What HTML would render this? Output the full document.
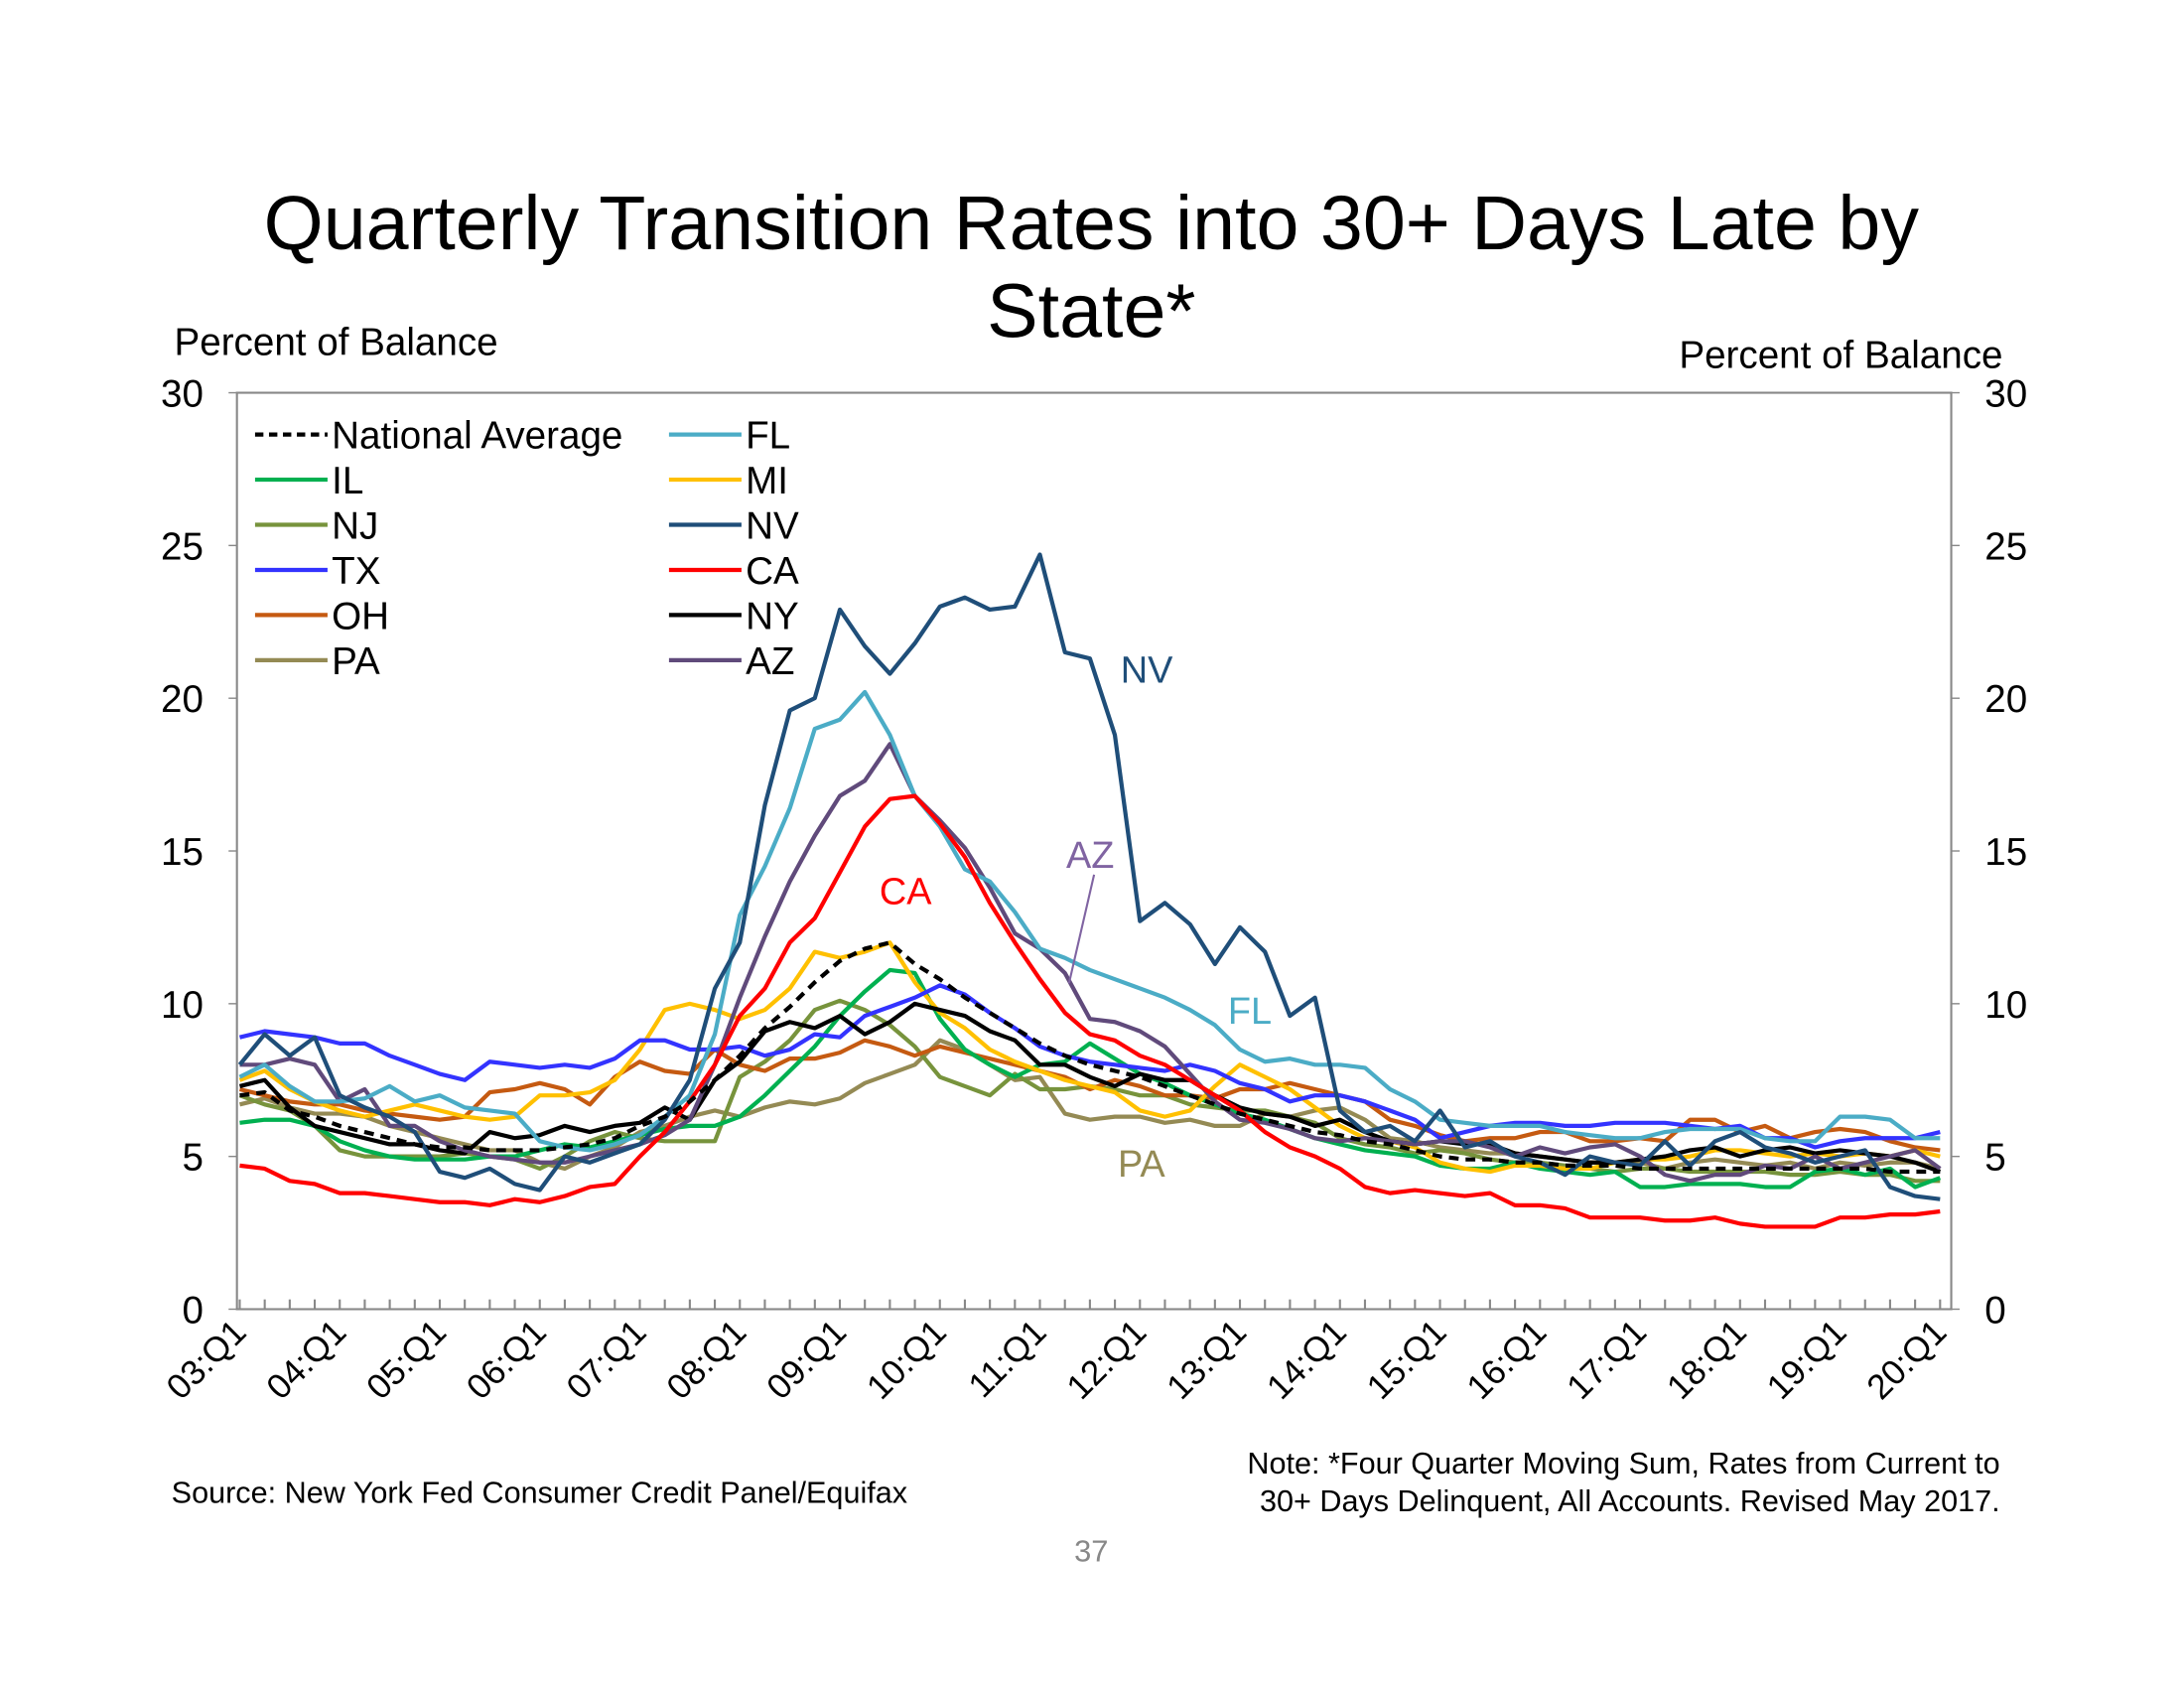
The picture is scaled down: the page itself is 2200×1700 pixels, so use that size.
<!DOCTYPE html>
<html><head><meta charset="utf-8">
<style>
html,body{margin:0;padding:0;background:#fff;}
svg{display:block;font-family:"Liberation Sans",Arial,sans-serif;}
</style></head>
<body>
<svg id="chart" width="2200" height="1700" viewBox="0 0 1567 1212" preserveAspectRatio="none" xmlns="http://www.w3.org/2000/svg">
<rect x="0" y="0" width="1567" height="1212" fill="#fff"/>
<text x="783" y="179" font-size="55" text-anchor="middle">Quarterly Transition Rates into 30+ Days Late by</text>
<text x="783" y="242" font-size="55" text-anchor="middle">State*</text>
<text x="125" y="255" font-size="27.5">Percent of Balance</text>
<text x="1437" y="264" font-size="27.5" text-anchor="end">Percent of Balance</text>
<rect x="170" y="282" width="1230" height="658" fill="none" stroke="#888" stroke-width="1.5"/>
<g id="axes"></g>
<g id="series"></g>
<g id="legend"></g>
<text x="804" y="490" font-size="27" fill="#1f4e79">NV</text>
<text x="765" y="623" font-size="27" fill="#8064a2">AZ</text>
<line x1="785" y1="628" x2="767" y2="706" stroke="#8064a2" stroke-width="1.5"/>
<text x="631" y="649" font-size="27" fill="#ff0000">CA</text>
<text x="881" y="735" font-size="27" fill="#4bacc6">FL</text>
<text x="802" y="845" font-size="27" fill="#948a54">PA</text>
<text x="123" y="1079" font-size="21.8">Source: New York Fed Consumer Credit Panel/Equifax</text>
<text x="1435" y="1058" font-size="21.8" text-anchor="end">Note: *Four Quarter Moving Sum, Rates from Current to</text>
<text x="1435" y="1085" font-size="21.8" text-anchor="end">30+ Days Delinquent, All Accounts. Revised May 2017.</text>
<text x="783" y="1121" font-size="22" fill="#888" text-anchor="middle">37</text>
</svg>
<script>
const yTicks = [0,5,10,15,20,25,30];
const xLabels = ["03:Q1","04:Q1","05:Q1","06:Q1","07:Q1","08:Q1","09:Q1","10:Q1","11:Q1","12:Q1","13:Q1","14:Q1","15:Q1","16:Q1","17:Q1","18:Q1","19:Q1","20:Q1"];
const seriesNames = ["National Average","FL","IL","MI","NJ","NV","TX","CA","OH","NY","PA","AZ"];
const natAvg = [7.0,7.1,6.5,6.3, 6.0,5.8,5.6,5.4, 5.3,5.3,5.2,5.2, 5.2,5.3,5.4,5.6, 6.0,6.3,6.8,7.5, 8.3,9.2,9.9,10.7, 11.4,11.8,12.0,11.3, 10.8,10.2,9.7,9.2, 8.7,8.3,8.0,7.8, 7.6,7.3,7.0,6.7, 6.4,6.2,6.0,5.8, 5.7,5.5,5.4,5.2, 5.0,4.9,4.9,4.8, 4.8,4.7,4.7,4.7, 4.6,4.6,4.6,4.6, 4.6,4.6,4.6,4.6, 4.6,4.6,4.5,4.5, 4.5];
const fl = [7.6,8.0,7.3,6.8, 6.8,6.9,7.3,6.8, 7.0,6.6,6.5,6.4, 5.5,5.3,5.2,5.4, 5.7,6.3,7.0,9.0, 12.9,14.5,16.4,19.0, 19.3,20.2,18.8,16.8, 15.8,14.4,14.0,13.0, 11.8,11.5,11.1,10.8, 10.5,10.2,9.8,9.3, 8.5,8.1,8.2,8.0, 8.0,7.9,7.2,6.8, 6.2,6.1,6.0,6.0, 6.0,5.8,5.7,5.6, 5.6,5.8,5.9,5.9, 5.9,5.6,5.5,5.5, 6.3,6.3,6.2,5.6, 5.6];
const il = [6.1,6.2,6.2,6.0, 5.5,5.2,5.0,4.9, 4.9,4.9,5.0,5.0, 5.2,5.4,5.3,5.5, 5.7,5.9,6.0,6.0, 6.3,7.0,7.8,8.6, 9.6,10.4,11.1,11.0, 9.5,8.5,8.0,7.6, 8.0,8.1,8.7,8.2, 7.7,7.4,7.0,6.7, 6.4,6.2,5.9,5.6, 5.4,5.2,5.1,5.0, 4.7,4.6,4.6,4.8, 4.6,4.5,4.4,4.5, 4.0,4.0,4.1,4.1, 4.1,4.0,4.0,4.5, 4.6,4.4,4.6,4.0, 4.3];
const mi = [7.5,7.8,7.2,6.8, 6.5,6.3,6.5,6.7, 6.5,6.3,6.2,6.3, 7.0,7.0,7.1,7.5, 8.5,9.8,10.0,9.8, 9.5,9.8,10.5,11.7, 11.5,11.7,12.0,10.7, 9.7,9.2,8.5,8.1, 7.8,7.5,7.3,7.1, 6.5,6.3,6.5,7.3, 8.0,7.6,7.2,6.6, 6.0,5.6,5.5,5.3, 4.8,4.6,4.5,4.7, 4.7,4.6,4.6,4.8, 4.9,4.9,5.0,5.2, 5.2,5.1,5.0,5.1, 5.0,5.1,5.0,5.2, 5.0];
const nj = [7.0,6.7,6.5,6.0, 5.2,5.0,5.0,5.0, 5.0,5.1,5.0,4.9, 4.6,5.0,5.5,5.8, 5.6,5.5,5.5,5.5, 7.6,8.1,8.8,9.8, 10.1,9.8,9.3,8.6, 7.6,7.3,7.0,7.7, 7.2,7.2,7.3,7.2, 7.0,7.0,6.7,6.6, 6.5,6.5,6.3,6.1, 5.6,5.4,5.3,5.1, 5.2,5.1,4.9,4.8, 4.8,4.7,4.6,4.5, 4.6,4.6,4.5,4.5, 4.5,4.5,4.4,4.4, 4.5,4.4,4.4,4.2, 4.2];
const nv = [8.0,9.0,8.3,8.9, 7.0,6.6,6.3,5.8, 4.5,4.3,4.6,4.1, 3.9,5.0,4.8,5.1, 5.4,6.2,7.5,10.5, 12.0,16.5,19.6,20.0, 22.9,21.7,20.8,21.8, 23.0,23.3,22.9,23.0, 24.7,21.5,21.3,18.8, 12.7,13.3,12.6,11.3, 12.5,11.7,9.6,10.2, 6.5,5.8,6.0,5.5, 6.5,5.3,5.5,5.0, 4.8,4.4,5.0,4.8, 4.7,5.5,4.7,5.5, 5.8,5.3,5.1,4.8, 5.0,5.2,4.0,3.7, 3.6];
const tx = [8.9,9.1,9.0,8.9, 8.7,8.7,8.3,8.0, 7.7,7.5,8.1,8.0, 7.9,8.0,7.9,8.2, 8.8,8.8,8.5,8.5, 8.6,8.3,8.5,9.0, 8.9,9.6,9.9,10.2, 10.6,10.3,9.7,9.2, 8.6,8.3,8.1,8.0, 7.9,7.8,8.0,7.8, 7.4,7.2,6.8,7.0, 7.0,6.8,6.5,6.2, 5.6,5.8,6.0,6.1, 6.1,6.0,6.0,6.1, 6.1,6.1,6.0,5.9, 6.0,5.6,5.6,5.3, 5.5,5.6,5.6,5.6, 5.8];
const ca = [4.7,4.6,4.2,4.1, 3.8,3.8,3.7,3.6, 3.5,3.5,3.4,3.6, 3.5,3.7,4.0,4.1, 5.0,5.8,6.8,8.0, 9.6,10.5,12.0,12.8, 14.3,15.8,16.7,16.8, 15.9,14.8,13.3,12.0, 10.8,9.7,9.0,8.8, 8.3,8.0,7.5,7.0, 6.5,5.8,5.3,5.0, 4.6,4.0,3.8,3.9, 3.8,3.7,3.8,3.4, 3.4,3.3,3.0,3.0, 3.0,2.9,2.9,3.0, 2.8,2.7,2.7,2.7, 3.0,3.0,3.1,3.1, 3.2];
const oh = [7.2,7.0,6.8,6.7, 6.7,6.5,6.4,6.3, 6.2,6.3,7.1,7.2, 7.4,7.2,6.7,7.6, 8.1,7.8,7.7,8.5, 8.0,7.8,8.2,8.2, 8.4,8.8,8.6,8.3, 8.6,8.4,8.2,8.0, 7.8,7.6,7.2,7.5, 7.3,7.0,7.0,6.9, 7.2,7.2,7.4,7.2, 7.0,6.8,6.2,6.0, 5.7,5.5,5.6,5.6, 5.8,5.8,5.5,5.5, 5.6,5.5,6.2,6.2, 5.8,6.0,5.6,5.8, 5.9,5.8,5.5,5.3, 5.2];
const ny = [7.3,7.5,6.6,6.0, 5.8,5.6,5.4,5.4, 5.2,5.1,5.8,5.6, 5.7,6.0,5.8,6.0, 6.1,6.6,6.2,7.5, 8.1,9.1,9.4,9.2, 9.6,9.0,9.4,10.0, 9.8,9.6,9.1,8.8, 8.0,8.0,7.6,7.3, 7.7,7.5,7.5,7.0, 6.6,6.4,6.3,6.0, 6.2,5.8,5.5,5.4, 5.5,5.4,5.4,5.1, 5.0,4.9,4.8,4.8, 4.9,5.0,5.2,5.3, 5.0,5.2,5.3,5.1, 5.2,5.1,5.0,4.8, 4.5];
const pa = [6.7,6.9,6.6,6.4, 6.4,6.3,6.0,5.8, 5.6,5.4,5.2,5.2, 4.8,4.6,5.0,5.3, 5.8,6.0,6.3,6.5, 6.3,6.6,6.8,6.7, 6.9,7.4,7.7,8.0, 8.8,8.5,8.0,7.5, 7.6,6.4,6.2,6.3, 6.3,6.1,6.2,6.0, 6.0,6.4,6.3,6.5, 6.6,6.2,5.6,5.5, 5.3,5.2,5.1,5.1, 5.0,4.9,4.8,4.8, 4.8,4.6,4.8,4.9, 4.8,4.7,4.8,4.6, 4.8,4.7,4.8,4.8, 4.6];
const az = [8.0,8.0,8.2,8.0, 6.8,7.2,6.0,6.0, 5.5,5.2,5.0,4.9, 4.8,4.8,5.0,5.2, 5.4,5.7,6.2,8.0, 10.2,12.2,14.0,15.5, 16.8,17.3,18.5,16.8, 16.0,15.1,13.8,12.3, 11.8,11.0,9.5,9.4, 9.1,8.6,7.7,6.8, 6.2,6.1,5.9,5.6, 5.5,5.6,5.5,5.4, 5.5,5.5,5.3,5.0, 5.3,5.1,5.3,5.4, 5.0,4.4,4.2,4.4, 4.4,4.7,4.6,5.0, 4.6,4.8,5.0,5.2, 4.6];

const NS = "http://www.w3.org/2000/svg";
const PL = 170, PR = 1400, PT = 282, PB = 940, NQ = 69;
const X0 = 172, XSTEP = (1392 - 172) / (NQ - 1);
function xScale(i){ return X0 + i * XSTEP; }
function yScale(v){ return PB - (v / 30) * (PB - PT); }
function mk(tag, attrs){ const e = document.createElementNS(NS, tag); for (const k in attrs) e.setAttribute(k, attrs[k]); return e; }

const axes = document.getElementById('axes');
yTicks.forEach(t => {
  const y = yScale(t);
  const l = mk('text', {x: 146, y: y + 10, 'font-size': 27.5, 'text-anchor': 'end'});
  
  
  l.textContent = t; axes.appendChild(l);
  const r = mk('text', {x: 1424, y: y + 10, 'font-size': 27.5});
  
  
  r.textContent = t; axes.appendChild(r);
  const tl = mk('line', {x1: 164, x2: 170, y1: y, y2: y, stroke: '#888'});
  
  
  axes.appendChild(tl);
  const tr = mk('line', {x1: 1400, x2: 1406, y1: y, y2: y, stroke: '#888'});
  
  
  axes.appendChild(tr);
});
for (let i = 0; i < NQ; i++) {
  const x = xScale(i);
  const t = mk('line', {x1: x, x2: x, y1: PB, y2: PB - 7, stroke: '#888', 'stroke-width': 1.5});
  
  
  axes.appendChild(t);
}
xLabels.forEach((lab, k) => {
  const x = xScale(k * 4) + 6, y = 958;
  const t = mk('text', {x: x, y: y, 'font-size': 25, 'text-anchor': 'end', transform: `rotate(-45 ${x} ${y})`});
  
  
  t.textContent = lab; axes.appendChild(t);
});

const seriesDefs = [
  {key:'natAvg', label:'National Average', data:natAvg, color:'#000', dash:'7,5'},
  {key:'il', label:'IL', data:il, color:'#00b050'},
  {key:'nj', label:'NJ', data:nj, color:'#77933c'},
  {key:'tx', label:'TX', data:tx, color:'#3333ff'},
  {key:'oh', label:'OH', data:oh, color:'#c55a11'},
  {key:'pa', label:'PA', data:pa, color:'#948a54'},
  {key:'fl', label:'FL', data:fl, color:'#4bacc6'},
  {key:'mi', label:'MI', data:mi, color:'#ffc000'},
  {key:'nv', label:'NV', data:nv, color:'#1f4e79'},
  {key:'ca', label:'CA', data:ca, color:'#ff0000'},
  {key:'ny', label:'NY', data:ny, color:'#000'},
  {key:'az', label:'AZ', data:az, color:'#604a7b'}
];
const drawOrder = ['pa','nj','oh','il','mi','tx','ny','az','fl','ca','nv','natAvg'];
const sg = document.getElementById('series');
drawOrder.forEach(k => {
  const s = seriesDefs.find(d => d.key === k);
  const d = s.data.map((v, i) => (i ? 'L' : 'M') + xScale(i).toFixed(1) + ' ' + yScale(v).toFixed(1)).join(' ');
  const p = mk('path', {d: d, fill: 'none', stroke: s.color, 'stroke-width': 3, 'stroke-linejoin': 'round'});
  if (s.dash) p.setAttribute('stroke-dasharray', s.dash);
  
  
  sg.appendChild(p);
});

const lg = document.getElementById('legend');
seriesDefs.forEach((s, idx) => {
  const col = idx < 6 ? 0 : 1, row = idx % 6;
  const lx = col ? 480 : 183, y = 312 + row * 32.4;
  const ln = mk('line', {x1: lx, x2: lx + 52, y1: y, y2: y, stroke: s.color, 'stroke-width': 3});
  if (s.dash) ln.setAttribute('stroke-dasharray', '6,4');
  
  
  lg.appendChild(ln);
  const t = mk('text', {x: lx + 55, y: y + 10, 'font-size': 27.5});
  
  
  t.textContent = s.label; lg.appendChild(t);
});
</script>
</body></html>
